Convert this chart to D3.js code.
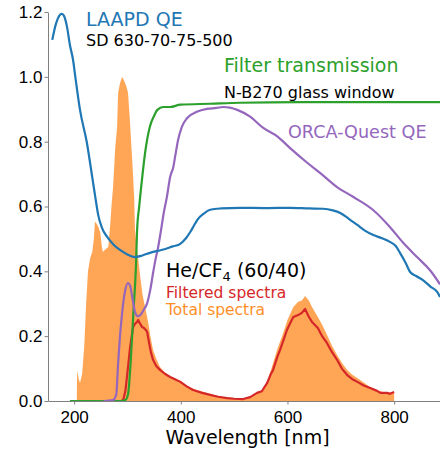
<!DOCTYPE html>
<html>
<head>
<meta charset="utf-8">
<script src="https://cdn.jsdelivr.net/npm/d3@7"></script>
<style>
    body { margin: 0; background: #fff; }
    svg { font-family: "DejaVu Sans", sans-serif; }
    .axis path, .axis line { stroke: #808080; stroke-width: 1; }
    .axis text { fill: #000; font-size: 17px; }
    .curve { fill: none; stroke-width: 2.2; stroke-linejoin: round; }
</style>
</head>
<body>
<svg id="chart"></svg>
<script>
// LAAPD QE (SD 630-70-75-500)
const laapdWl = [159, 166, 172, 177, 181, 187, 192, 198, 202, 211, 224, 234, 241, 245, 252, 262, 274, 286, 300, 314,
    328, 342, 356, 371, 385, 399, 410, 418, 425, 431, 443, 455, 475, 511, 560, 605, 640, 667, 685, 699,
    715, 731, 746, 761, 777, 792, 803, 811, 821, 830, 842, 854, 868, 881, 886];
const laapdQE = [1.114, 1.164, 1.188, 1.194, 1.188, 1.151, 1.099, 1.052, 1.003, 0.898, 0.796, 0.69, 0.615, 0.575, 0.535, 0.506, 0.482, 0.466, 0.452, 0.444,
    0.449, 0.457, 0.463, 0.469, 0.477, 0.485, 0.503, 0.522, 0.542, 0.559, 0.578, 0.59, 0.594, 0.596, 0.595, 0.596, 0.594, 0.593, 0.588, 0.58,
    0.562, 0.543, 0.525, 0.512, 0.502, 0.491, 0.478, 0.457, 0.428, 0.398, 0.385, 0.373, 0.353, 0.336, 0.321];

// N-B270 glass window transmission
const filterWl = [192, 250, 286, 296, 301, 306, 311, 316, 318, 322, 327, 333, 342, 350, 356, 367, 380, 399, 455, 511, 624, 750, 886];
const filterT = [0, 0, 0, 0.003, 0.02, 0.12, 0.27, 0.42, 0.525, 0.6, 0.68, 0.765, 0.846, 0.88, 0.898, 0.907, 0.907, 0.914, 0.917, 0.92, 0.922, 0.922, 0.922];

// ORCA-Quest QE
const orcaWl = [255, 273, 279, 282.5, 286, 290, 295.6, 301, 305, 309, 314, 319, 324, 330, 337, 343, 348, 353, 357, 363,
    368, 374, 380, 386, 390, 395, 402, 412, 430, 449, 467, 479, 492, 506, 530, 554, 582, 605, 637, 661,
    693, 723, 760, 792, 817, 843, 867, 886];
const orcaQE = [0, 0.003, 0.02, 0.117, 0.2, 0.272, 0.34, 0.364, 0.355, 0.32, 0.275, 0.262, 0.265, 0.28, 0.302, 0.345, 0.395, 0.44, 0.47, 0.528,
    0.58, 0.63, 0.691, 0.722, 0.76, 0.806, 0.846, 0.873, 0.892, 0.901, 0.904, 0.907, 0.905, 0.898, 0.877, 0.843, 0.815, 0.78, 0.735, 0.704,
    0.66, 0.63, 0.59, 0.537, 0.488, 0.444, 0.404, 0.36];

// He/CF4 (60/40) total spectrum
const totalWl = [205, 205.6, 209, 211, 215, 219, 222.5, 226, 230, 234, 237, 239, 241, 245, 249, 252, 254, 257, 260, 264,
    267.5, 270, 273, 277, 280.6, 282.5, 286, 290, 293, 295.6, 298, 301, 304, 307, 310, 312.5, 314, 317, 320, 324,
    328, 333, 339, 343, 348, 354, 361, 370, 380, 390, 399, 411, 423, 440, 455, 470, 487, 500, 517, 530,
    543, 554, 562, 568, 573, 582, 592, 600, 611, 620, 627, 633, 640, 646, 657, 665, 674, 683, 693, 702,
    712, 721, 731, 743, 755, 767, 779, 790, 798, 800, 800];
const totalSpec = [0, 0.093, 0.065, 0.056, 0.083, 0.17, 0.30, 0.40, 0.44, 0.46, 0.50, 0.553, 0.55, 0.538, 0.52, 0.475, 0.46, 0.465, 0.47, 0.475,
    0.54, 0.6, 0.66, 0.78, 0.846, 0.951, 0.98, 1.0, 0.99, 0.981, 0.97, 0.951, 0.88, 0.796, 0.71, 0.63, 0.53, 0.48, 0.44, 0.383,
    0.33, 0.29, 0.241, 0.2, 0.157, 0.13, 0.105, 0.088, 0.075, 0.068, 0.063, 0.048, 0.038, 0.029, 0.022, 0.015, 0.011, 0.009, 0.008, 0.013,
    0.027, 0.034, 0.06, 0.09, 0.117, 0.165, 0.21, 0.25, 0.29, 0.306, 0.31, 0.324, 0.31, 0.29, 0.259, 0.235, 0.204, 0.172, 0.142, 0.118,
    0.096, 0.082, 0.071, 0.057, 0.043, 0.035, 0.028, 0.026, 0.025, 0.027, 0];

// filtered spectrum
const filteredWl = [288, 292, 296, 299, 302, 305, 308, 310.6, 314, 318, 320, 323, 327.5, 331, 334, 337, 340.6, 344, 348, 354,
    361, 370, 380, 390, 399, 411, 423, 440, 455, 470, 487, 500, 517, 530, 543, 552, 562, 568, 573, 581,
    586, 593, 599, 605, 611, 620, 627, 633, 640, 646, 657, 665, 674, 683, 693, 702, 712, 721, 731, 743,
    755, 767, 774, 787, 792, 800];
const filteredSpec = [0, 0.003, 0.03, 0.074, 0.12, 0.167, 0.2, 0.228, 0.238, 0.244, 0.25, 0.24, 0.228, 0.225, 0.22, 0.213, 0.179, 0.15, 0.127, 0.108,
    0.096, 0.084, 0.074, 0.066, 0.059, 0.045, 0.034, 0.025, 0.019, 0.013, 0.009, 0.007, 0.006, 0.012, 0.025, 0.03, 0.056, 0.08, 0.096, 0.136,
    0.157, 0.19, 0.219, 0.24, 0.259, 0.265, 0.272, 0.284, 0.26, 0.244, 0.225, 0.2, 0.179, 0.152, 0.127, 0.1, 0.08, 0.068, 0.059, 0.048,
    0.04, 0.032, 0.025, 0.025, 0.022, 0.028];

const yTicks = [0, 0.2, 0.4, 0.6, 0.8, 1.0, 1.2];
const xTicks = [200, 400, 600, 800];

const zip = (xs, ys) => xs.map((x, i) => ({ wl: x, val: ys[i] }));

class SpectraChart {
    constructor(_config) {
        this.config = {
            parentElement: _config.parentElement,
            containerWidth: _config.containerWidth || 440,
            containerHeight: _config.containerHeight || 453,
            margin: { top: 12, bottom: 52, right: 0, left: 48 }
        }
        this.initVis();
    }

    initVis() {
        let vis = this;

        vis.width = vis.config.containerWidth - vis.config.margin.left - vis.config.margin.right;
        vis.height = vis.config.containerHeight - vis.config.margin.top - vis.config.margin.bottom;

        vis.svg = d3.select(vis.config.parentElement)
            .attr('width', vis.config.containerWidth)
            .attr('height', vis.config.containerHeight);

        vis.chart = vis.svg.append('g')
            .attr('transform', `translate(${vis.config.margin.left},${vis.config.margin.top})`);

        vis.svg.append('clipPath').attr('id', 'plot-clip')
            .append('rect')
            .attr('x', 0).attr('y', -10)
            .attr('width', vis.width).attr('height', vis.height + 10);

        vis.xScale = d3.scaleLinear()
            .domain([151, 886])
            .range([0, vis.width]);

        vis.yScale = d3.scaleLinear()
            .domain([0, 1.2])
            .range([vis.height, 0]);

        vis.xAxis = d3.axisBottom(vis.xScale)
            .tickValues(xTicks)
            .tickSize(3.5)
            .tickSizeOuter(0)
            .tickPadding(6)
            .tickFormat(d3.format('d'));

        vis.yAxis = d3.axisLeft(vis.yScale)
            .tickValues(yTicks)
            .tickSize(3.5)
            .tickSizeOuter(0)
            .tickPadding(2)
            .tickFormat(d3.format('.1f'));

        vis.marks = vis.chart.append('g').attr('clip-path', 'url(#plot-clip)');

        vis.xAxisG = vis.chart.append('g')
            .attr('class', 'axis x-axis')
            .attr('transform', `translate(0,${vis.height})`);

        vis.yAxisG = vis.chart.append('g')
            .attr('class', 'axis y-axis');
    }

    renderVis() {
        let vis = this;

        const line = d3.line()
            .x(d => vis.xScale(d.wl))
            .y(d => vis.yScale(d.val));

        const smoothLine = d3.line()
            .curve(d3.curveMonotoneX)
            .x(d => vis.xScale(d.wl))
            .y(d => vis.yScale(d.val));

        const area = d3.area()
            .x(d => vis.xScale(d.wl))
            .y0(vis.yScale(0))
            .y1(d => vis.yScale(d.val));

        vis.marks.append('path')
            .datum(zip(totalWl, totalSpec))
            .attr('fill', '#ff7f0e')
            .attr('fill-opacity', 0.7)
            .attr('d', area);

        const curves = [
            { data: zip(filteredWl, filteredSpec), color: '#d62728', width: 1.6, gen: line },
            { data: zip(filterWl, filterT), color: '#2ca02c', width: 2.2, gen: smoothLine },
            { data: zip(orcaWl, orcaQE), color: '#9467bd', width: 2.2, gen: smoothLine },
            { data: zip(laapdWl, laapdQE), color: '#1f77b4', width: 2.2, gen: smoothLine }
        ];

        vis.marks.selectAll('.curve')
            .data(curves)
            .join('path')
                .attr('class', 'curve')
                .attr('stroke', d => d.color)
                .attr('stroke-width', d => d.width)
                .attr('d', d => d.gen(d.data));

        vis.xAxisG.call(vis.xAxis);
        vis.yAxisG.call(vis.yAxis);

        // annotations
        const labels = [
            { text: 'LAAPD QE', x: 86, y: 26, size: 19, color: '#1f77b4' },
            { text: 'SD 630-70-75-500', x: 86, y: 46, size: 16, color: '#000' },
            { text: 'Filter transmission', x: 224, y: 72, size: 19, color: '#2ca02c' },
            { text: 'N-B270 glass window', x: 224, y: 98, size: 16, color: '#000' },
            { text: 'ORCA-Quest QE', x: 288, y: 138, size: 17.6, color: '#9467bd' },
            { text: 'Filtered spectra', x: 166, y: 298, size: 15.5, color: '#d62728' },
            { text: 'Total spectra', x: 166, y: 315, size: 15.5, color: '#ff8f2a' }
        ];

        vis.svg.selectAll('.anno')
            .data(labels)
            .join('text')
                .attr('class', 'anno')
                .attr('x', d => d.x)
                .attr('y', d => d.y)
                .attr('font-size', d => d.size)
                .attr('fill', d => d.color)
                .text(d => d.text);

        const gas = vis.svg.append('text')
            .attr('x', 166)
            .attr('y', 277)
            .attr('font-size', 19)
            .attr('fill', '#000');
        gas.append('tspan').text('He/CF');
        gas.append('tspan').attr('font-size', 13).attr('dy', 4).text('4');
        gas.append('tspan').attr('dy', -4).text(' (60/40)');

        vis.svg.append('text')
            .attr('x', 247.5)
            .attr('y', 444)
            .attr('text-anchor', 'middle')
            .attr('font-size', 19)
            .attr('fill', '#000')
            .text('Wavelength [nm]');
    }
}

const chart = new SpectraChart({ parentElement: '#chart' });
chart.renderVis();
</script>
</body>
</html>
